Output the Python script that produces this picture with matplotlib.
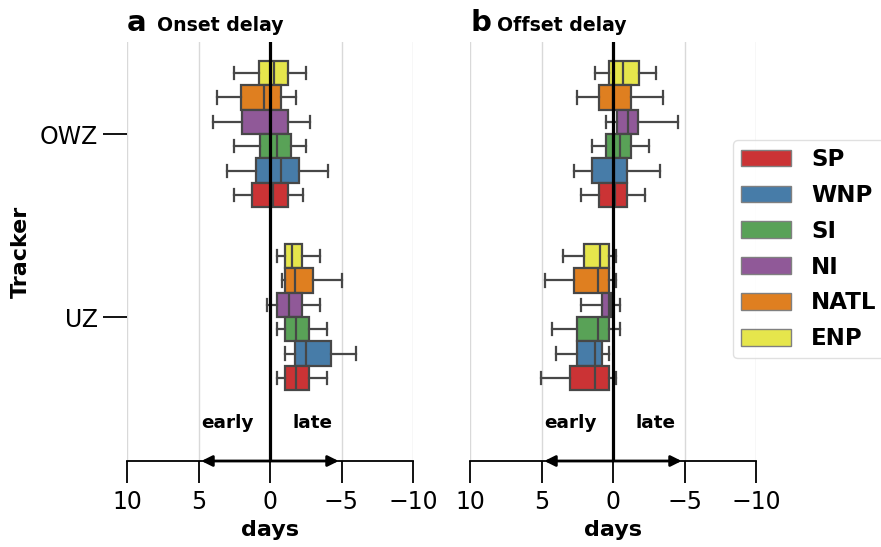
import matplotlib

matplotlib.use("Agg")
import matplotlib.pyplot as plt
from matplotlib.patches import Patch
import seaborn as sns

W, H = 881, 547

# basins, top-to-bottom inside each tracker group
basins = ["ENP", "NATL", "NI", "SI", "WNP", "SP"]
legend_order = ["SP", "WNP", "SI", "NI", "NATL", "ENP"]
trackers = ["OWZ", "UZ"]

# box stats per basin: whislo, q1, median, q3, whishi  (days)
onset_owz = [[-2.52, -1.28, -0.30, 0.75, 2.50],
             [-1.80, -0.75, 0.44, 2.00, 3.73],
             [-2.78, -1.28, 0.00, 1.94, 3.99],
             [-2.52, -1.49, -0.47, 0.70, 2.50],
             [-4.03, -2.03, -0.77, 0.96, 2.98],
             [-2.29, -1.24, -0.23, 1.24, 2.50]]
onset_uz = [[-3.52, -2.24, -1.52, -1.03, -0.51],
            [-5.00, -3.01, -1.73, -1.03, -0.86],
            [-3.52, -2.26, -1.33, -0.51, 0.23],
            [-4.01, -2.75, -1.80, -1.03, -0.51],
            [-6.00, -4.24, -2.50, -1.77, -1.03],
            [-4.01, -2.75, -1.80, -1.03, -0.51]]
offset_owz = [[-3.01, -1.80, -0.73, 0.25, 1.23],
              [-3.50, -1.24, 0.00, 1.00, 2.52],
              [-4.52, -1.75, -1.05, -0.26, 0.51],
              [-2.52, -1.24, -0.49, 0.49, 1.49],
              [-3.27, -0.98, -0.05, 1.47, 2.73],
              [-2.24, -0.98, -0.14, 1.00, 2.26]]
offset_uz = [[-0.24, 0.28, 0.91, 2.00, 3.52],
             [-0.24, 0.25, 1.02, 2.75, 4.76],
             [-0.49, 0.11, 0.30, 0.74, 2.26],
             [-0.49, 0.28, 1.02, 2.52, 4.27],
             [0.25, 0.74, 1.26, 2.52, 4.01],
             [-0.24, 0.28, 1.26, 3.01, 5.01]]

xticks = [10, 5, 0, -5, -10]

pal = sns.color_palette("Set1", 6)
base = {"SP": pal[0], "WNP": pal[1], "SI": pal[2], "NI": pal[3], "NATL": pal[4], "ENP": pal[5]}
colors = {k: sns.desaturate(v, 0.75) for k, v in base.items()}
edge = "0.28"

plt.rcParams["font.family"] = "DejaVu Sans"
fig = plt.figure(figsize=(W / 100, H / 100), dpi=100)

ax_l = 127 / W
ax_w = 286 / W
ax_b = 1 - 461 / H
ax_h = (461 - 42) / H
axa = fig.add_axes([ax_l, ax_b, ax_w, ax_h])
axb = fig.add_axes([470 / W, ax_b, ax_w, ax_h])

bw = 0.8 / len(basins)


def draw(ax, groups):
    for t, group in enumerate(groups):
        for j, (name, s) in enumerate(zip(basins, group)):
            y = t - 0.4 + (j + 0.5) * bw
            st = dict(whislo=s[0], q1=s[1], med=s[2], q3=s[3], whishi=s[4], fliers=[])
            ax.bxp([st], positions=[y], widths=bw, vert=False, patch_artist=True,
                   showfliers=False, capwidths=bw * 0.5,
                   boxprops=dict(facecolor=colors[name], edgecolor=edge, lw=1.6),
                   medianprops=dict(color=edge, lw=1.6),
                   whiskerprops=dict(color=edge, lw=1.6),
                   capprops=dict(color=edge, lw=1.6))
    ax.axvline(0, color="k", lw=2.3, zorder=5)
    ax.set_xlim(10, -10)
    ax.set_ylim(1.787, -0.503)
    ax.set_xticks(xticks)
    ax.set_xticklabels([str(v).replace("-", "\u2212") for v in xticks])
    ax.xaxis.grid(True, color="0.85", lw=1)
    ax.set_axisbelow(True)
    for sp in ["top", "right", "left"]:
        ax.spines[sp].set_visible(False)
    ax.spines["bottom"].set_linewidth(1.3)
    ax.tick_params(axis="x", length=16, width=1.3, labelsize=17, pad=5)
    ax.set_xlabel("days", fontsize=16, fontweight="bold", labelpad=4)
    tr = ax.get_xaxis_transform()
    for xe in [4.8, -4.8]:
        ax.annotate("", xy=(xe, 0), xytext=(0, 0), xycoords=tr, textcoords=tr,
                    arrowprops=dict(arrowstyle="-|>", color="k", lw=2,
                                    mutation_scale=16, shrinkA=0, shrinkB=0),
                    zorder=6, annotation_clip=False)
    ax.text(3.0, 0.09, "early", transform=tr, ha="center", va="center",
            fontsize=13.3, fontweight="bold")
    ax.text(-3.0, 0.09, "late", transform=tr, ha="center", va="center",
            fontsize=13.3, fontweight="bold")


draw(axa, [onset_owz, onset_uz])
draw(axb, [offset_owz, offset_uz])

axa.set_yticks(range(len(trackers)))
axa.set_yticklabels(trackers)
axa.tick_params(axis="y", length=17, width=1.3, labelsize=17, pad=4)
axa.set_ylabel("Tracker", fontsize=16, fontweight="bold", labelpad=6)
axb.set_yticks([])

fig.text(127 / W, 1 - 31 / H, "a", fontsize=21, fontweight="bold", va="baseline")
fig.text(157 / W, 1 - 31 / H, "Onset delay", fontsize=13.6, fontweight="bold", va="baseline")
fig.text(471 / W, 1 - 31 / H, "b", fontsize=21, fontweight="bold", va="baseline")
fig.text(497 / W, 1 - 31 / H, "Offset delay", fontsize=13.6, fontweight="bold", va="baseline")

handles = [Patch(facecolor=colors[n], edgecolor="0.5", label=n) for n in legend_order]
leg = fig.legend(handles=handles, loc="upper left", bbox_to_anchor=(733 / W, 1 - 140 / H),
                 borderaxespad=0, prop=dict(size=16.5, weight="bold"),
                 handlelength=2.18, handleheight=0.74, handletextpad=0.87,
                 labelspacing=0.56, borderpad=0.35, frameon=True)
leg.get_frame().set_edgecolor("0.85")

fig.savefig("out.png", dpi=100)
